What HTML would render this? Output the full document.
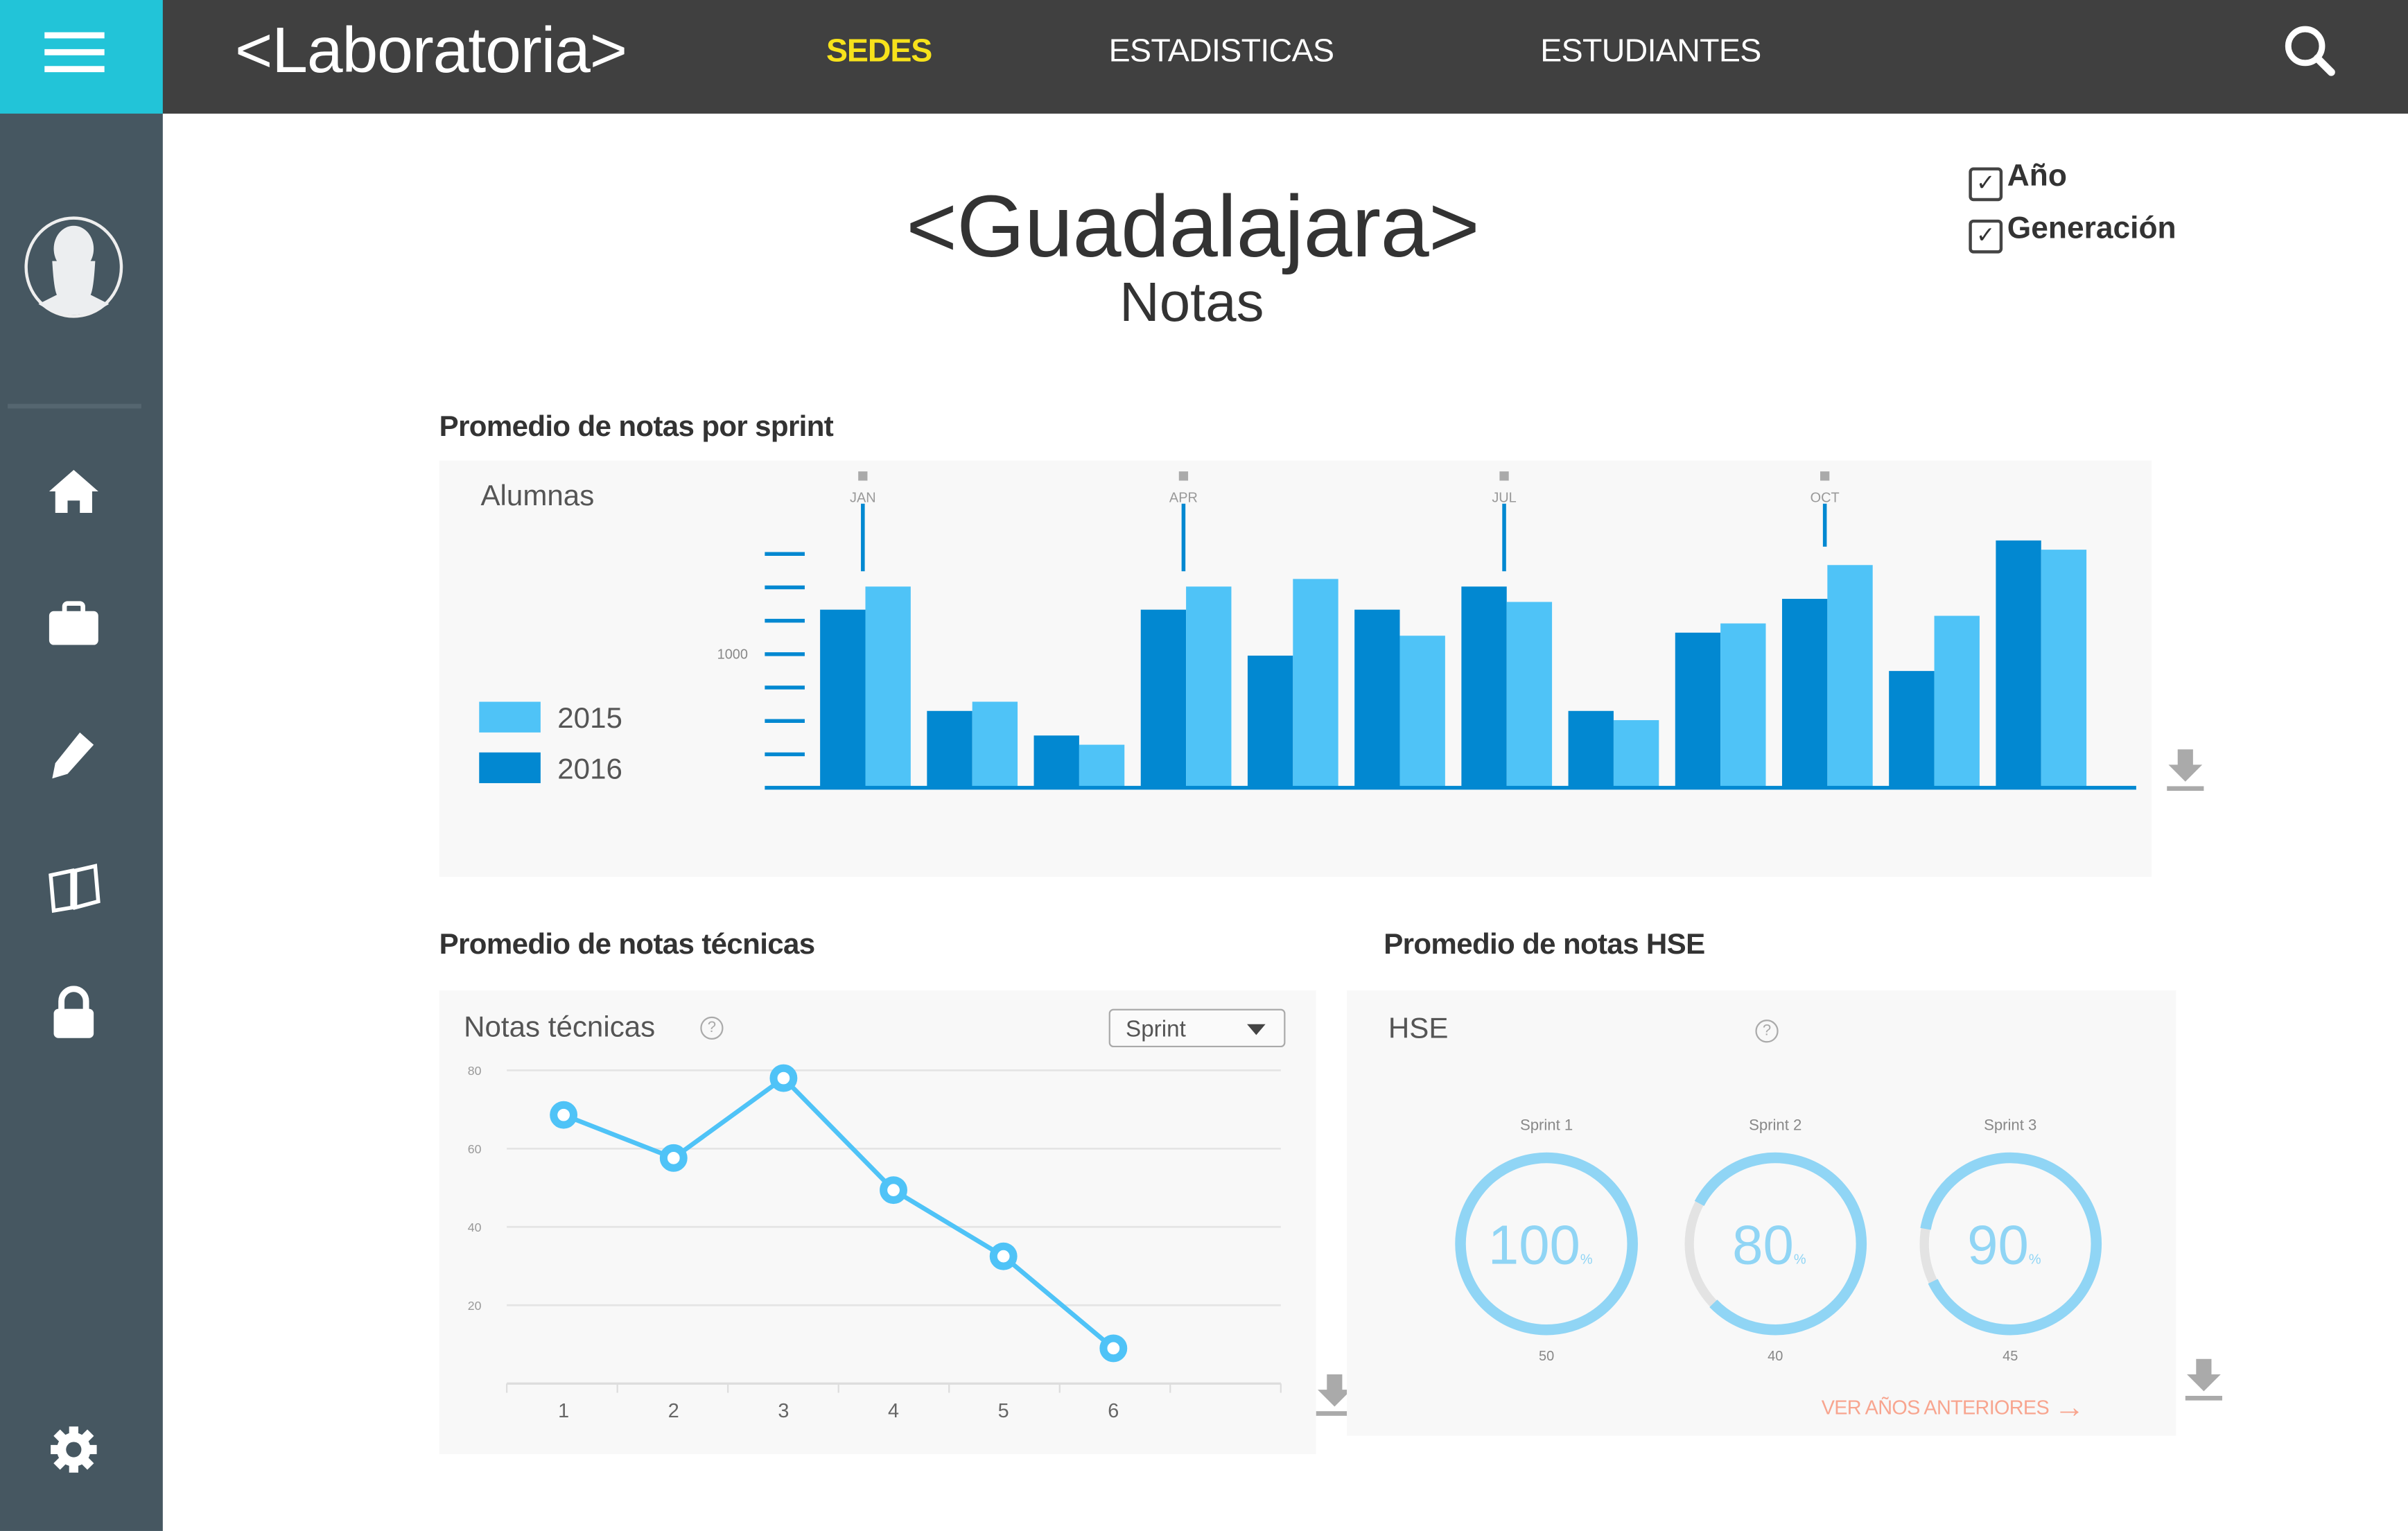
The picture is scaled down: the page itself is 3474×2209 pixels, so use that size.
<!DOCTYPE html>
<html><head><meta charset="utf-8">
<style>
html,body{margin:0;padding:0;width:3474px;height:2209px;overflow:hidden;background:#fff}
#root{position:absolute;left:0;top:0;width:1568px;height:997px;transform:scale(2.2156);transform-origin:0 0;font-family:"Liberation Sans",sans-serif;background:#fff}
.abs{position:absolute}
.nav{color:#fff;font-size:21px;top:22px}
.sec{font-size:19px;font-weight:bold;color:#333;letter-spacing:-0.3px}
.panel{background:#f8f8f8}
.sb{position:absolute;left:30px;width:36px;height:36px}
.cb{display:inline-block;width:18px;height:18px;border:2px solid #444;border-radius:3px;vertical-align:-3px;font-size:15px;line-height:18px;text-align:center;font-weight:normal;margin-right:3px}
</style></head><body>
<div id="root">
  <div class="abs" style="left:0;top:0;width:1568px;height:74px;background:#404040"></div>
  <div class="abs" style="left:0;top:0;width:106px;height:74px;background:#22c4d8">
    <div class="abs" style="left:29px;top:21px;width:39px;height:4px;background:#fff"></div>
    <div class="abs" style="left:29px;top:32px;width:39px;height:4px;background:#fff"></div>
    <div class="abs" style="left:29px;top:43px;width:39px;height:4px;background:#fff"></div>
  </div>
  <div class="abs" style="left:153px;top:9px;font-size:42px;color:#fff;letter-spacing:-0.5px">&lt;Laboratoria&gt;</div>
  <div class="abs nav" style="left:538px;color:#f7e21b;font-weight:bold;letter-spacing:-0.5px">SEDES</div>
  <div class="abs nav" style="left:722px;letter-spacing:-0.3px">ESTADISTICAS</div>
  <div class="abs nav" style="left:1003px;letter-spacing:-0.3px">ESTUDIANTES</div>
  <svg class="abs" style="left:1484px;top:14px" width="40" height="40"><circle cx="17" cy="16" r="11" stroke="#fff" stroke-width="4" fill="none"/><line x1="25" y1="24" x2="34" y2="33" stroke="#fff" stroke-width="5" stroke-linecap="round"/></svg>

  <div class="abs" style="left:0;top:74px;width:106px;height:923px;background:#465761">
    <svg class="abs" style="left:15px;top:66px" width="66" height="68"><ellipse cx="33" cy="34" rx="31" ry="32" stroke="#eee" stroke-width="2" fill="none"/><ellipse cx="33" cy="22" rx="13" ry="15" fill="#eceef0"/><path d="M19 30 Q20 48 22 52 L10 58 Q33 72 56 58 L44 52 Q46 48 47 30 Z" fill="#eceef0"/></svg>
    <div class="abs" style="left:5px;top:189px;width:87px;height:3px;background:#556670"></div>
    <svg class="sb" style="top:228px"><path d="M18 4 L34 18 L30 18 L30 32 L22 32 L22 24 L14 24 L14 32 L6 32 L6 18 L2 18 Z" fill="#fff"/></svg>
    <svg class="sb" style="top:316px"><rect x="2" y="8" width="32" height="22" rx="3" fill="#fff"/><rect x="12" y="3" width="12" height="7" rx="2" stroke="#fff" stroke-width="3" fill="none"/></svg>
    <svg class="sb" style="top:400px"><path d="M22 3 L31 11 L14 30 L4 33 L6 23 Z" fill="#fff"/></svg>
    <svg class="sb" style="top:486px"><path d="M3 10 L17 7 L17 31 L5 33 Z M19 7 L32 4 L34 27 L19 31 Z" stroke="#fff" stroke-width="2.5" fill="none"/></svg>
    <svg class="sb" style="top:568px"><rect x="5" y="15" width="26" height="19" rx="3" fill="#fff"/><path d="M10 16 V10 A8 8 0 0 1 26 10 V16" stroke="#fff" stroke-width="4" fill="none"/></svg>
    <svg class="sb" style="top:852px"><circle cx="18" cy="18" r="11" fill="#fff"/><g stroke="#fff" stroke-width="6"><line x1="18" y1="3" x2="18" y2="33"/><line x1="3" y1="18" x2="33" y2="18"/><line x1="7" y1="7" x2="29" y2="29"/><line x1="29" y1="7" x2="7" y2="29"/></g><circle cx="18" cy="18" r="5" fill="#465761"/></svg>
  </div>

  <div class="abs" style="left:590px;top:115px;font-size:57px;color:#333;letter-spacing:-0.3px">&lt;Guadalajara&gt;</div>
  <div class="abs" style="left:729px;top:176px;font-size:36px;color:#333">Notas</div>
  <div class="abs" style="left:1282px;top:104px;font-size:20px;font-weight:bold;color:#333"><span class="cb">✓</span>Año</div>
  <div class="abs" style="left:1282px;top:138px;font-size:20px;font-weight:bold;color:#333"><span class="cb">✓</span>Generación</div>

  <div class="abs sec" style="left:286px;top:268px">Promedio de notas por sprint</div>
  <div class="abs panel" style="left:286px;top:300px;width:1115px;height:271px"></div>
  <div class="abs" style="left:313px;top:313px;font-size:19px;color:#555">Alumnas</div>
  <div class="abs" style="left:312px;top:457px;font-size:19px;color:#555"><span style="display:inline-block;width:40px;height:20px;background:#4fc3f7;vertical-align:-3px;margin-right:11px"></span>2015</div>
  <div class="abs" style="left:312px;top:490px;font-size:19px;color:#555"><span style="display:inline-block;width:40px;height:20px;background:#0288d1;vertical-align:-3px;margin-right:11px"></span>2016</div>
  <svg class="abs" id="barsvg" style="left:0;top:0" width="1568" height="997"></svg>
  <svg class="abs" style="left:1410px;top:486px" width="26" height="30"><path d="M8 2 H18 V12 H24 L13 23 L2 12 H8 Z" fill="#aaa"/><rect x="1" y="26" width="24" height="3" fill="#aaa"/></svg>

  <div class="abs sec" style="left:286px;top:605px">Promedio de notas técnicas</div>
  <div class="abs panel" style="left:286px;top:645px;width:571px;height:302px"></div>
  <div class="abs" style="left:302px;top:659px;font-size:19px;color:#555">Notas técnicas</div>
  <div class="abs" style="left:456px;top:662px;width:13px;height:13px;border:1.5px solid #aaa;border-radius:50%;font-size:10px;color:#aaa;text-align:center;line-height:13px">?</div>
  <div class="abs" style="left:722px;top:657px;width:115px;height:25px;border:1.5px solid #aaa;border-radius:3px;background:#fafafa;font-size:15px;color:#555;line-height:25px;box-sizing:border-box;padding-left:10px">Sprint<span style="position:absolute;right:12px;top:9px;width:0;height:0;border-left:6px solid transparent;border-right:6px solid transparent;border-top:7px solid #444"></span></div>
  <svg class="abs" id="linesvg" style="left:0;top:0" width="1568" height="997"></svg>
  <svg class="abs" style="left:856px;top:893px" width="26" height="30"><path d="M8 2 H18 V12 H24 L13 23 L2 12 H8 Z" fill="#aaa"/><rect x="1" y="26" width="24" height="3" fill="#aaa"/></svg>

  <div class="abs sec" style="left:901px;top:605px">Promedio de notas HSE</div>
  <div class="abs panel" style="left:877px;top:645px;width:540px;height:290px"></div>
  <div class="abs" style="left:904px;top:660px;font-size:19px;color:#555">HSE</div>
  <div class="abs" style="left:1143px;top:664px;width:13px;height:13px;border:1.5px solid #aaa;border-radius:50%;font-size:10px;color:#aaa;text-align:center;line-height:13px">?</div>
  <svg class="abs" id="hsesvg" style="left:0;top:0" width="1568" height="997"></svg>
  <div class="abs" style="left:1186px;top:906px;font-size:13px;color:#f8a58f;letter-spacing:-0.3px">VER AÑOS ANTERIORES <span style="font-size:20px;vertical-align:-2px">→</span></div>
  <svg class="abs" style="left:1422px;top:883px" width="26" height="30"><path d="M8 2 H18 V12 H24 L13 23 L2 12 H8 Z" fill="#aaa"/><rect x="1" y="26" width="24" height="3" fill="#aaa"/></svg>
</div>
<script>
var NS='http://www.w3.org/2000/svg';
function mk(p,t,a){var e=document.createElementNS(NS,t);for(var k in a)e.setAttribute(k,a[k]);p.appendChild(e);return e;}
// ---- sprint bar chart data ----
var sprints=['1','2','3','4','5','6','7','8','9','10','11','12'];
var values2016=[1333,575,391,1333,989,1333,1506,575,1161,1414,874,1851];
var values2015=[1506,644,322,1506,1563,1138,1391,506,1230,1667,1287,1782];
var months=['JAN','APR','JUL','OCT'];
var monthPos=[0.4,3.4,6.4,9.4];
var yTicks=[250,500,750,1000,1250,1500,1750];
var yTickLabels=['','','','1000','','',''];
var bs=document.getElementById('barsvg');
var base=513,pxPer=87/1000,x0=534,step=69.6,bw=29.5;
function by(v){return base-v*pxPer;}
function bx(i){return x0+i*step;}
yTicks.forEach(function(t,i){
  var l=mk(bs,'line',{x1:498,x2:524,y1:by(t),y2:by(t),stroke:'#0288d1','stroke-width':2.5});
  
  
  if(yTickLabels[i]){var tx=mk(bs,'text',{x:487,y:by(t)+3,'font-size':9,fill:'#888','text-anchor':'end','font-family':'Liberation Sans'});tx.textContent=yTickLabels[i];
  
  }
});
sprints.forEach(function(s,i){
  var r1=mk(bs,'rect',{x:bx(i),y:by(values2016[i]),width:bw,height:values2016[i]*pxPer,fill:'#0288d1'});
  
  
  var r2=mk(bs,'rect',{x:bx(i)+bw,y:by(values2015[i]),width:bw,height:values2015[i]*pxPer,fill:'#4fc3f7'});
  
  
});
var ax=mk(bs,'line',{x1:498,x2:1391,y1:base,y2:base,stroke:'#0288d1','stroke-width':2.5});


months.forEach(function(m,i){
  var x=bx(monthPos[i]);
  var g=mk(bs,'g',{});
  
  
  mk(g,'rect',{x:x-3,y:307,width:6,height:6,fill:'#aaa'});
  var t=mk(g,'text',{x:x,y:327,'font-size':9,fill:'#999','text-anchor':'middle','font-family':'Liberation Sans'});t.textContent=m;
  mk(g,'line',{x1:x,x2:x,y1:328,y2:m==='OCT'?356:372,stroke:'#0288d1','stroke-width':2.5});
});
// ---- tech line chart data ----
var techLabels=['1','2','3','4','5','6'];
var techValues=[68.6,57.6,78,49.4,32.5,9];
var techTicks=[20,40,60,80];
var ls=document.getElementById('linesvg');
var ly0=901,lpx=51/20,lx0=367,lstep=71.6;
function ly(v){return ly0-v*lpx;}
function lx(i){return lx0+i*lstep;}
techTicks.forEach(function(t){
  var l=mk(ls,'line',{x1:330,x2:834,y1:ly(t),y2:ly(t),stroke:'#e4e4e4','stroke-width':1.2});
  
  
  var tx=mk(ls,'text',{x:309,y:ly(t)+3,'font-size':8,fill:'#999','text-anchor':'middle','font-family':'Liberation Sans'});tx.textContent=t;
  
  
});
var lax=mk(ls,'line',{x1:330,x2:834,y1:ly0,y2:ly0,stroke:'#ddd','stroke-width':1.5});


for(var k=0;k<=7;k++){var xx=330+k*(504/7);mk(ls,'line',{x1:xx,x2:xx,y1:ly0,y2:ly0+6,stroke:'#ddd','stroke-width':1});}
techLabels.forEach(function(s,i){
  var t=mk(ls,'text',{x:lx(i),y:923,'font-size':13,fill:'#666','text-anchor':'middle','font-family':'Liberation Sans'});t.textContent=s;
  
  
});
var pts=techValues.map(function(v,i){return lx(i)+','+ly(v);}).join(' ');
var pl=mk(ls,'polyline',{points:pts,fill:'none',stroke:'#4fc3f7','stroke-width':3});


techValues.forEach(function(v,i){
  var c=mk(ls,'circle',{cx:lx(i),cy:ly(v),r:6.5,fill:'#fff',stroke:'#4fc3f7','stroke-width':5});
  
  
});
// ---- HSE donuts ----
var hseLabels=['Sprint 1','Sprint 2','Sprint 3'];
var hsePercent=[100,80,90];
var hseCounts=['50','40','45'];
var hs=document.getElementById('hsesvg');
var hcx=[1007,1156,1309],hcy=810,hr=56;
hseLabels.forEach(function(s,i){
  var g=mk(hs,'g',{});
  
  
  var t=mk(g,'text',{x:hcx[i],y:736,'font-size':10,fill:'#888','text-anchor':'middle','font-family':'Liberation Sans'});t.textContent=s;
  var C=2*Math.PI*hr;
  var p=hsePercent[i];
  var gap=(100-p)*3.6;
  var rot=172-gap/2-p*3.6;
  mk(g,'circle',{cx:hcx[i],cy:hcy,r:hr,fill:'none',stroke:'#e3e3e3','stroke-width':6});
  mk(g,'circle',{cx:hcx[i],cy:hcy,r:hr,fill:'none',stroke:'#90d5f5','stroke-width':7,'stroke-dasharray':(C*p/100)+' '+C,transform:'rotate('+rot+' '+hcx[i]+' '+hcy+')'});
  var tv=mk(g,'text',{x:hcx[i]-4,y:hcy+13,'font-size':36,fill:'#90d5f5','text-anchor':'middle','font-family':'Liberation Sans'});tv.textContent=p;
  var ts=mk(g,'tspan',{'font-size':9});ts.textContent='%';tv.appendChild(ts);
  var tc=mk(g,'text',{x:hcx[i],y:886,'font-size':9,fill:'#888','text-anchor':'middle','font-family':'Liberation Sans'});tc.textContent=hseCounts[i];
});
</script>
</body></html>
